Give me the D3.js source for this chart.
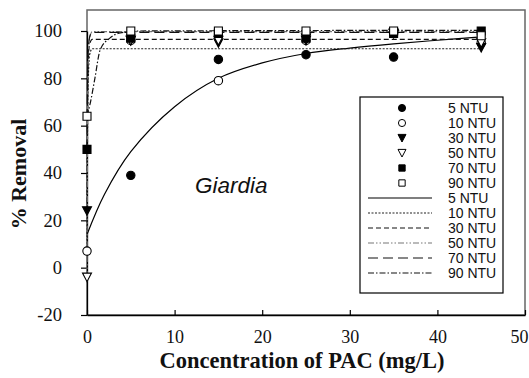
<!DOCTYPE html>
<html>
<head>
<meta charset="utf-8">
<script src="https://cdn.jsdelivr.net/npm/d3@7"></script>
<style>
  body { margin: 0; background: #fff; }
  svg text { fill: #111; }
</style>
</head>
<body>
<div id="chart"></div>
<script>
// ... measured data (PAC dose in mg/L, % removal)
const doses = [0, 5, 15, 25, 35, 45];
const seriesNames = ['5 NTU', '10 NTU', '30 NTU', '50 NTU', '70 NTU', '90 NTU'];
const ntu5 = [null, 39, 88, 90, 89, null];
const ntu10 = [7, 96, 79, 96, 99, 95];
const ntu30 = [24, 96, 95, 96, 99, 93];
const ntu50 = [-4, 96, 96, 97, 99, 95];
const ntu70 = [50, 97, 99, 97, 99, 100];
const ntu90 = [64, 100, 100, 100, 100, 98];

// ... fitted curves
const fit5x = [0, 2, 5, 10, 15, 20, 25, 30, 35, 40, 45];
const fit5y = [14, 31, 49, 68, 80, 86.5, 90.5, 92.8, 94.6, 96.1, 97.5];
const fit10x = [0, 0.05, 0.15, 0.3, 0.6, 45];
const fit10y = [7, 50, 80, 90, 92.5, 92.5];
const fit30x = [0, 0.05, 0.15, 0.3, 0.6, 45];
const fit30y = [24, 60, 88, 94.5, 96.5, 96.5];
const fit50x = [0, 0.05, 0.15, 0.3, 0.6, 45];
const fit50y = [-4, 50, 88, 97, 99.7, 99.7];
const fit70x = [0, 0.05, 0.15, 0.3, 0.6, 45];
const fit70y = [50, 75, 92, 97.5, 99.4, 99.4];
const fit90x = [0, 0.4, 0.9, 1.5, 2.6, 3.8, 6, 45];
const fit90y = [64, 70, 80, 92, 97, 99.2, 100, 100.3];

const xTicks = [0, 10, 20, 30, 40, 50];
const yTicks = [-20, 0, 20, 40, 60, 80, 100];

const W = 529, H = 378;
const mLeft = 87, mRight = 525, mTop = 10, mBottom = 315;
const serif = '"Liberation Serif", "Times New Roman", serif';
const sans = '"Liberation Sans", Arial, sans-serif';

const x = d3.scaleLinear().domain([0, 50]).range([mLeft, mRight]);
const y = d3.scaleLinear().domain([-20, 100]).range([mBottom, 31]);

const svg = d3.select('#chart').append('svg')
    .attr('width', W)
    .attr('height', H);

// ... frame
svg.append('rect')
    .attr('x', mLeft).attr('y', mTop)
    .attr('width', mRight - mLeft).attr('height', mBottom - mTop)
    .attr('fill', 'none')
    .attr('stroke', '#666')
    .attr('stroke-width', 1.5);

// ... axes
const xAxis = svg.append('g')
    .attr('transform', 'translate(0,' + mBottom + ')')
    .call(d3.axisBottom(x).tickValues(xTicks).tickFormat(d => String(d))
        .tickSizeInner(-5).tickSizeOuter(0).tickPadding(15));
xAxis.attr('font-family', serif).attr('font-size', 18);
xAxis.select('.domain').attr('stroke', '#000').attr('stroke-width', 1.3);
xAxis.selectAll('.tick line').attr('stroke', '#000').attr('stroke-width', 1.2);
xAxis.selectAll('text')
    .style('font-family', serif)
    .style('font-size', '18px');
xAxis.selectAll('.tick').filter(d => d === 50).select('text').attr('dx', -6);

const yAxis = svg.append('g')
    .attr('transform', 'translate(' + mLeft + ',0)')
    .call(d3.axisLeft(y).tickValues(yTicks).tickFormat(d => String(d))
        .tickSizeInner(6).tickSizeOuter(0).tickPadding(19));
yAxis.attr('font-family', serif).attr('font-size', 18);
yAxis.select('.domain').attr('stroke', '#000').attr('stroke-width', 1.3);
yAxis.selectAll('.tick line').attr('stroke', '#000').attr('stroke-width', 1.2);
yAxis.selectAll('text')
    .style('font-family', serif)
    .style('font-size', '18.5px');

// ... axis titles
svg.append('text')
    .attr('x', 302)
    .attr('y', 368)
    .attr('text-anchor', 'middle')
    .style('font-family', serif)
    .style('font-weight', 'bold')
    .style('font-size', '22.5px')
    .text('Concentration of PAC (mg/L)');

svg.append('text')
    .attr('transform', 'translate(26,174) rotate(-90)')
    .attr('text-anchor', 'middle')
    .style('font-family', serif)
    .style('font-weight', 'bold')
    .style('font-size', '22px')
    .text('% Removal');

svg.append('text')
    .attr('x', 195)
    .attr('y', 193)
    .style('font-family', sans)
    .style('font-style', 'italic')
    .style('font-size', '22.5px')
    .text('Giardia');

// ... fitted lines
const lineStyles = [
    { dash: null, color: '#000' },
    { dash: '2,1.5', color: '#222' },
    { dash: '5,3', color: '#111' },
    { dash: '6,2,1.5,2,1.5,2', color: '#777' },
    { dash: '10,5', color: '#111' },
    { dash: '6,2,1.5,2', color: '#111' }
];
const fits = [
    [fit5x, fit5y], [fit10x, fit10y], [fit30x, fit30y],
    [fit50x, fit50y], [fit70x, fit70y], [fit90x, fit90y]
];

const smooth = d3.line()
    .x(d => x(d[0]))
    .y(d => y(d[1]))
    .curve(d3.curveCatmullRom.alpha(0.5));

const steep = d3.line()
    .x(d => x(d[0]))
    .y(d => y(d[1]))
    .curve(d3.curveMonotoneX);

fits.forEach(function (f, i) {
    const pts = f[0].map((v, j) => [v, f[1][j]]);
    svg.append('path')
        .datum(pts)
        .attr('d', i === 0 ? smooth : steep)
        .attr('fill', 'none')
        .attr('stroke', lineStyles[i].color)
        .attr('stroke-width', 1.2)
        .attr('stroke-dasharray', lineStyles[i].dash);
});

// ... markers
const sym = [
    { type: d3.symbolCircle, size: 55, fill: '#000' },
    { type: d3.symbolCircle, size: 55, fill: '#fff' },
    { type: 'tri', size: 9, fill: '#000' },
    { type: 'tri', size: 9, fill: '#fff' },
    { type: d3.symbolSquare, size: 64, fill: '#000' },
    { type: d3.symbolSquare, size: 64, fill: '#fff' }
];

function markerPath(s) {
    if (s.type === 'tri') {
        const h = s.size;
        return 'M' + (-h / 2) + ',' + (-h * 0.45) + 'L' + (h / 2) + ',' + (-h * 0.45) + 'L0,' + (h * 0.5) + 'Z';
    }
    return d3.symbol().type(s.type).size(s.size)();
}

const series = [ntu5, ntu10, ntu30, ntu50, ntu70, ntu90];
series.forEach(function (vals, i) {
    const pts = doses.map((d, j) => [d, vals[j]]).filter(p => p[1] !== null);
    svg.append('g').selectAll('path')
        .data(pts)
        .join('path')
        .attr('transform', d => 'translate(' + x(d[0]) + ',' + y(d[1]) + ')')
        .attr('d', markerPath(sym[i]))
        .attr('fill', sym[i].fill)
        .attr('stroke', '#000')
        .attr('stroke-width', 1.1);
});

// ... legend
const lg = svg.append('g');
lg.append('rect')
    .attr('x', 360).attr('y', 97)
    .attr('width', 143).attr('height', 196)
    .attr('fill', '#fff')
    .attr('stroke', '#000')
    .attr('stroke-width', 1.2);

const rowY = i => 108 + i * 15;

seriesNames.forEach(function (name, i) {
    lg.append('path')
        .attr('transform', 'translate(402,' + rowY(i) + ')')
        .attr('d', markerPath(Object.assign({}, sym[i], { size: sym[i].type === 'tri' ? 8 : 40 })))
        .attr('fill', sym[i].fill)
        .attr('stroke', '#000')
        .attr('stroke-width', 1);
    lg.append('text')
        .attr('x', 448).attr('y', rowY(i))
        .attr('dy', '0.35em')
        .style('font-family', sans)
        .style('font-size', '14px')
        .text(name);
});

seriesNames.forEach(function (name, i) {
    const yy = rowY(i + 6);
    lg.append('line')
        .attr('x1', 368).attr('x2', 432)
        .attr('y1', yy).attr('y2', yy)
        .attr('stroke', lineStyles[i].color)
        .attr('stroke-width', 1.2)
        .attr('stroke-dasharray', lineStyles[i].dash);
    lg.append('text')
        .attr('x', 448).attr('y', yy)
        .attr('dy', '0.35em')
        .style('font-family', sans)
        .style('font-size', '14px')
        .text(name);
});
</script>
</body>
</html>
